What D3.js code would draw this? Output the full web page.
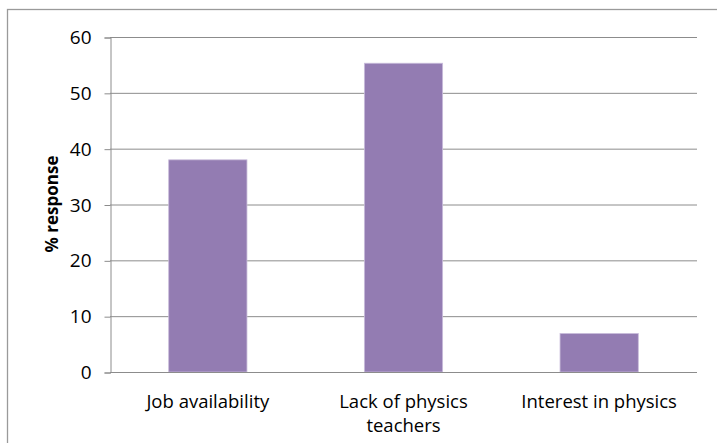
<!DOCTYPE html>
<html>
<head>
<meta charset="utf-8">
<script src="https://cdn.jsdelivr.net/npm/d3@7"></script>
<style>
  body { margin: 0; background: #fff; }
  svg { display: block; font-family: "Open Sans", "Noto Sans", sans-serif; }
</style>
</head>
<body>
<svg id="chart" width="717" height="443"></svg>
<script>
(function () {
  'use strict';

  var categories = [['Job availability'], ['Lack of physics', 'teachers'], ['Interest in physics']];
  var values = [38.0, 55.3, 6.9];
  var yTicks = [0, 10, 20, 30, 40, 50, 60];
  var yTitle = '% response';

  var svg = d3.select('#chart');
  var left = 110, right = 697, top = 37, bottom = 372;
  var font = '"Open Sans", "Noto Sans", sans-serif';

  // outer chart border (runs off the right and bottom edges)
  svg.append('rect')
    .attr('x', 7.5).attr('y', 9.5)
    .attr('width', 730).attr('height', 450)
    .attr('fill', 'none')
    .attr('stroke', '#9a9a9a')
    .attr('stroke-width', 1.3);

  var x = d3.scaleBand()
    .domain(d3.range(categories.length))
    .range([left, right])
    .paddingInner(0.6)
    .paddingOuter(0.3);

  var y = d3.scaleLinear().domain([0, 60]).range([bottom, top]);

  // gridlines
  svg.append('g')
    .selectAll('line')
    .data(yTicks)
    .enter()
    .append('line')
    .attr('x1', left).attr('x2', right)
    .attr('y1', function (d) { return y(d) + 0.5; })
    .attr('y2', function (d) { return y(d) + 0.5; })
    .attr('stroke', '#8c8c8c')
    .attr('stroke-width', 1);

  // bars
  svg.append('g')
    .selectAll('rect')
    .data(values)
    .enter()
    .append('rect')
    .attr('x', function (d, i) { return x(i); })
    .attr('y', function (d) { return y(d); })
    .attr('width', x.bandwidth())
    .attr('height', function (d) { return bottom - y(d); })
    .attr('fill', '#937cb2')
    .attr('stroke', '#c9bcdb')
    .attr('stroke-width', 0.8);

  // y axis
  var yAxis = d3.axisLeft(y)
    .tickValues(yTicks)
    .tickSize(6)
    .tickPadding(13);

  var gy = svg.append('g')
    .attr('transform', 'translate(' + (left + 0.5) + ',0.5)')
    .call(yAxis);
  gy.attr('font-size', null).attr('font-family', null);
  gy.select('.domain').attr('stroke', '#8c8c8c');
  gy.selectAll('.tick line').attr('stroke', '#8c8c8c');
  gy.selectAll('.tick text')
    .attr('fill', '#000')
    .style('font-size', '19px')
    .style('font-family', font);

  // x axis baseline
  svg.append('line')
    .attr('x1', left).attr('x2', right)
    .attr('y1', bottom + 0.5).attr('y2', bottom + 0.5)
    .attr('stroke', '#8c8c8c');

  // category labels
  svg.append('g')
    .selectAll('text')
    .data(categories)
    .enter()
    .append('text')
    .attr('x', function (d, i) { return x(i) + x.bandwidth() / 2; })
    .attr('y', 408)
    .attr('text-anchor', 'middle')
    .style('font-size', '18.5px')
    .attr('fill', '#000')
    .each(function (d) {
      var t = d3.select(this);
      d.forEach(function (line, j) {
        t.append('tspan')
          .attr('x', t.attr('x'))
          .attr('dy', j === 0 ? 0 : 24)
          .text(line);
      });
    });

  // y axis title
  svg.append('text')
    .attr('transform', 'translate(58,' + 204 + ') rotate(-90)')
    .attr('text-anchor', 'middle')
    .style('font-size', '17px')
    .attr('font-weight', 'bold')
    .attr('fill', '#000')
    .text(yTitle);
})();
</script>
</body>
</html>
